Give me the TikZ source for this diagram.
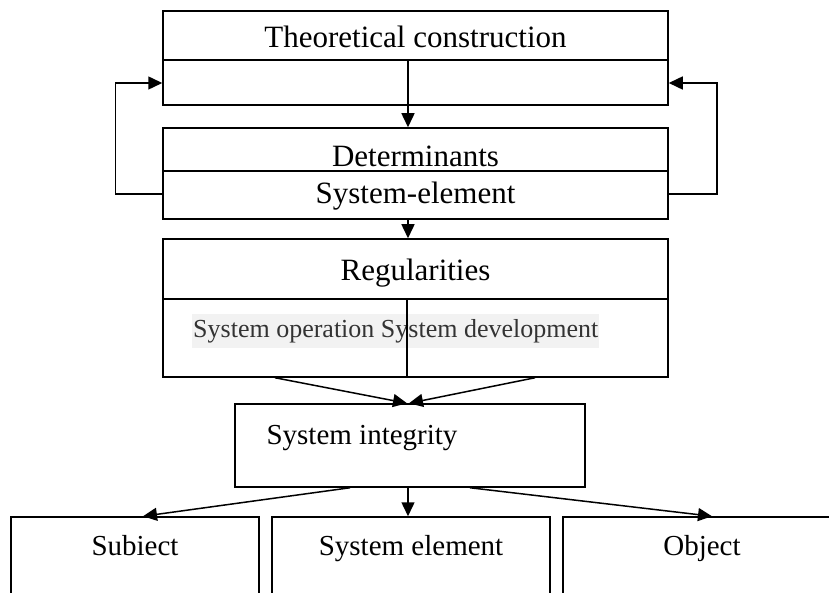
\documentclass[tikz,border=0pt]{standalone}
\usepackage{fontspec}
\setmainfont{Liberation Serif}
\usetikzlibrary{arrows.meta, positioning}

\begin{document}
\begin{tikzpicture}[
        x=1pt, y=-1pt,
        block/.style={draw, line width=1.5pt, inner sep=0pt},
        title/.style={font=\fontsize{31}{36}\selectfont, anchor=base},
        small/.style={font=\fontsize{29}{34}\selectfont, anchor=base},
        link/.style={line width=1.5pt, -{Triangle[length=14pt, width=13pt]}}
    ]

    \useasboundingbox (0,0) rectangle (829,593);
    \clip (0,0) rectangle (829,593);

    % Theoretical construction
    \node[block, minimum width=505pt, minimum height=94pt] (theory) at (415.5,58) {};
    \draw[line width=1.5pt] (theory.north west) ++(0,50) -- ++(505,0);
    \node[title] (theory-text) at (415.5,48) {Theoretical construction};
    \coordinate (split) at (408,61);

    % Determinants
    \node[block, minimum width=505pt, minimum height=91pt] (determ) at (415.5,173.5) {};
    \draw[line width=1.5pt] (determ.north west) ++(0,44) -- ++(505,0);
    \node[title] (determ-text) at (415.5,167) {Determinants};
    \node[title] (element-text) at (415.5,204) {System-element};

    % Regularities
    \node[block, minimum width=505pt, minimum height=138pt] (regular) at (415.5,308) {};
    \draw[line width=1.5pt] (regular.north west) ++(0,61) -- ++(505,0);
    \node[title] (regular-text) at (415.5,280) {Regularities};
    \node[font=\fontsize{26}{30}\selectfont, text=black!80, fill=black!5, anchor=west,
          inner xsep=1pt, inner ysep=0pt, minimum height=34pt] (modes-text) at (192,331)
          {System operation System development};
    \draw[line width=1.5pt] (407,300) -- (regular.south -| 407,0);

    % System integrity
    \node[block, minimum width=350pt, minimum height=83pt] (integ) at (410,445.5) {};
    \node[small, anchor=base west] (integ-text) at (263,444) {System integrity};

    % Subiect, System element, Object
    \node[block, minimum width=248pt, minimum height=110pt] (subject) at (135,572) {};
    \node[block, minimum width=278pt, minimum height=110pt] (sysel) at (411,572) {};
    \node[block, minimum width=278pt, minimum height=110pt] (object) at (702,572) {};
    \node[small] (subject-text) at (135,555) {Subiect};
    \node[small] (sysel-text) at (411,555) {System element};
    \node[small] (object-text) at (702,555) {Object};

    % arrows
    \draw[link] (split) -- (split |- determ.north);
    \draw[link] ([yshift=-20.5pt]determ.west) -- ++(-47,0) |- ([yshift=-25pt]theory.west);
    \draw[link] ([yshift=-20.5pt]determ.east) -- ++(48,0) |- ([yshift=-25pt]theory.east);
    \draw[link] (determ.south -| split) -- (regular.north -| split);
    \draw[link] ([xshift=-140.5pt]regular.south) -- ([xshift=-3pt]integ.north);
    \draw[link] ([xshift=119.5pt]regular.south) -- ([xshift=-1pt]integ.north);
    \draw[link] ([xshift=-60pt]integ.south) -- ([xshift=8pt]subject.north);
    \draw[link] ([xshift=-2pt]integ.south) -- (sysel.north -| 408,0);
    \draw[link] ([xshift=60pt]integ.south) -- ([xshift=10pt]object.north);

\end{tikzpicture}
\end{document}
